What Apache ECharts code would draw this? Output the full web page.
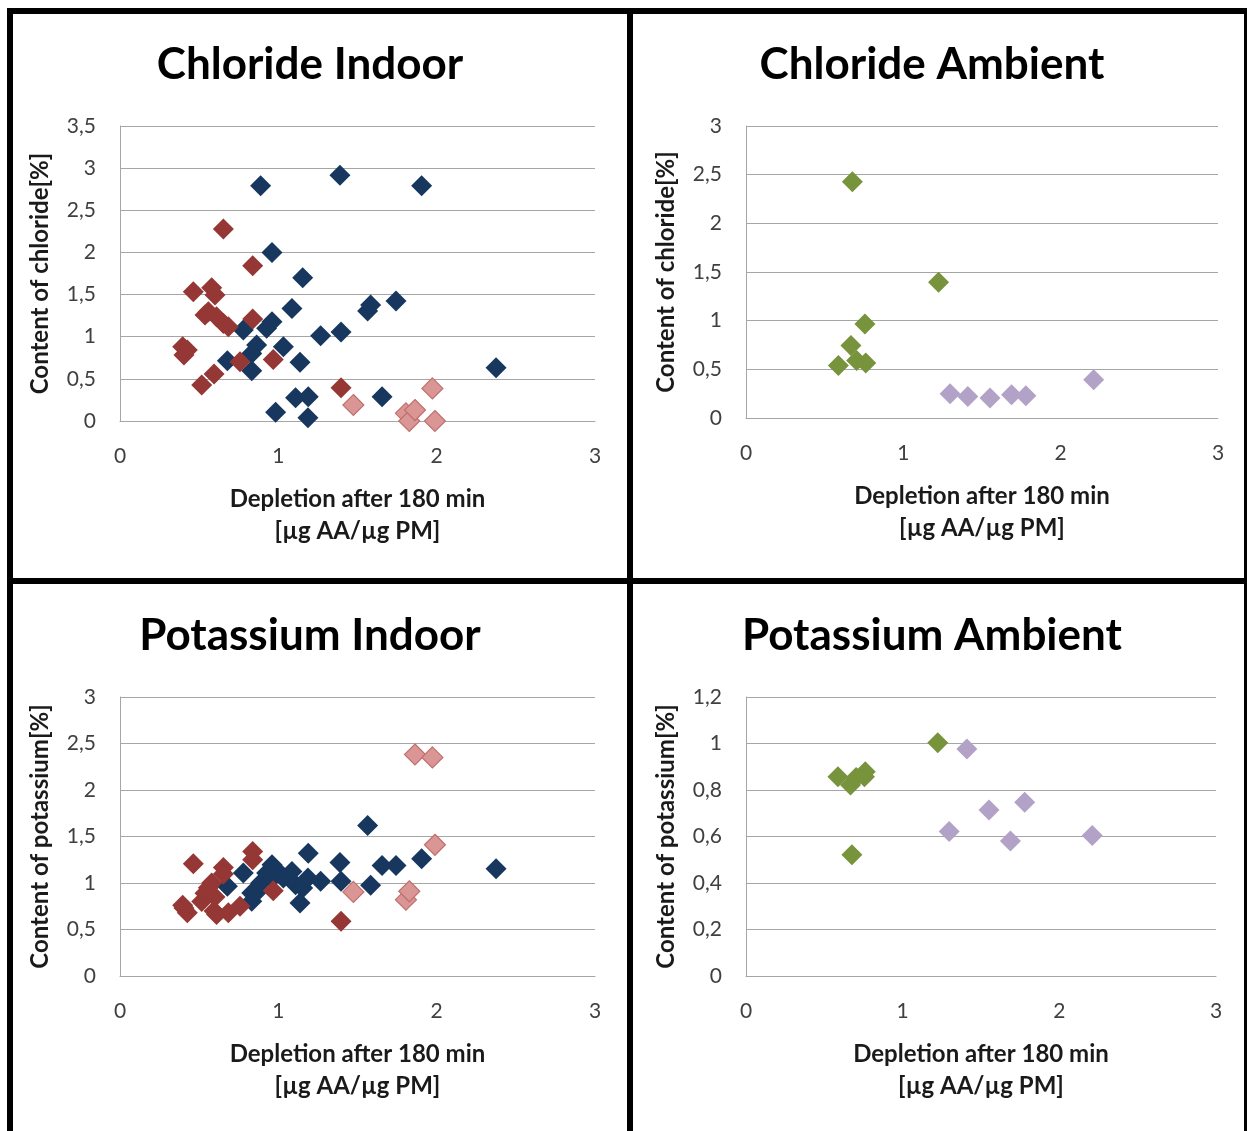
<!DOCTYPE html>
<html>
<head>
<meta charset="utf-8">
<script src="https://cdn.jsdelivr.net/npm/echarts@6/dist/echarts.min.js"></script>
<style>
  html, body { margin: 0; padding: 0; background: #fff; }
  #chart { width: 1247px; height: 1131px; }
</style>
</head>
<body>
<div id="chart"></div>
<script>
// Indoor samples (dark blue): depletion, chloride content, potassium content
const indoorBlueX  = [0.678, 0.779, 0.832, 0.832, 0.863, 0.888, 0.926, 0.96, 0.96, 0.983, 1.032, 1.086, 1.109, 1.137, 1.154, 1.187, 1.189, 1.267, 1.389, 1.396, 1.564, 1.583, 1.655, 1.743, 1.905, 2.375];
const indoorBlueCl = [0.715, 1.079, 0.80, 0.597, 0.901, 2.79, 1.099, 2.0, 1.178, 0.103, 0.88, 1.336, 0.277, 0.696, 1.70, 0.04, 0.289, 1.012, 2.917, 1.055, 1.304, 1.375, 0.289, 1.423, 2.79, 0.632];
const indoorBlueK  = [0.964, 1.107, 0.893, 0.804, 0.90, 1.0, 1.107, 1.196, 1.05, 1.15, 1.054, 1.125, 0.98, 0.786, 0.946, 1.054, 1.321, 1.018, 1.221, 1.018, 1.618, 0.975, 1.189, 1.189, 1.261, 1.154];

// Indoor samples (dark red)
const indoorRedX  = [0.396, 0.404, 0.425, 0.463, 0.516, 0.537, 0.558, 0.579, 0.594, 0.6, 0.61, 0.653, 0.653, 0.684, 0.758, 0.838, 0.838, 0.968, 1.396];
const indoorRedCl = [0.881, 0.783, 0.842, 1.534, 0.427, 1.257, 1.296, 1.581, 0.557, 1.494, 1.237, 2.277, 1.158, 1.119, 0.704, 1.842, 1.21, 0.731, 0.395];
const indoorRedK  = [0.76, 0.732, 0.68, 1.207, 0.80, 0.89, 0.95, 1.0, 0.70, 0.85, 0.66, 1.168, 1.096, 0.68, 0.75, 1.339, 1.25, 0.918, 0.589];

// Indoor samples (light red)
const indoorPinkX  = [1.474, 1.806, 1.827, 1.863, 1.973, 1.989];
const indoorPinkCl = [0.19, 0.091, 0.0, 0.13, 0.387, 0.0];
const indoorPinkK  = [0.904, 0.821, 0.911, 2.382, 2.35, 1.411];

// Ambient samples (green)
const ambientGreenX  = [0.587, 0.667, 0.676, 0.703, 0.756, 0.761, 1.224];
const ambientGreenCl = [0.54, 0.745, 2.426, 0.59, 0.967, 0.564, 1.394];
const ambientGreenK  = [0.857, 0.821, 0.521, 0.854, 0.857, 0.879, 1.003];

// Ambient samples (purple)
const ambientPurpleX  = [1.297, 1.41, 1.551, 1.688, 1.779, 2.21];
const ambientPurpleCl = [0.249, 0.222, 0.205, 0.239, 0.229, 0.393];
const ambientPurpleK  = [0.621, 0.976, 0.714, 0.581, 0.747, 0.604];

const panelTitles = ['Chloride Indoor', 'Chloride Ambient', 'Potassium Indoor', 'Potassium Ambient'];
const xAxisName = 'Depletion after 180 min\n[µg AA/µg PM]';
const yAxisNames = ['Content of chloride[%]', 'Content of chloride[%]', 'Content of potassium[%]', 'Content of potassium[%]'];
const yMax = [3.5, 3, 3, 1.2];
const yStep = [0.5, 0.5, 0.5, 0.2];

const FONT = 'Lato, "Open Sans", sans-serif';
const GRID_COLOR = '#a6a6a6';

const pairs = (xs, ys) => xs.map((x, i) => [x, ys[i]]);
const decimalComma = v => String(Math.round(v * 10) / 10).replace('.', ',');

const grids = [
  { left: 120, top: 126, width: 475, height: 295 },
  { left: 746, top: 126, width: 472, height: 292 },
  { left: 120, top: 697, width: 475, height: 279 },
  { left: 746, top: 697, width: 470, height: 279 }
];

const titleCenters = [[305, 38], [927, 38], [305, 609], [927, 609]];

const xAxes = grids.map((g, i) => ({
  type: 'value', gridIndex: i, min: 0, max: 3, interval: 1,
  name: xAxisName, nameLocation: 'middle', nameGap: 62,
  nameTextStyle: { fontFamily: FONT, fontWeight: 'bold', fontSize: 24, color: '#1a1a1a', lineHeight: 32 },
  axisLine: { show: true, lineStyle: { color: GRID_COLOR, width: 1 } },
  axisTick: { show: false },
  splitLine: { show: false },
  axisLabel: { fontFamily: FONT, fontSize: 21, color: '#404040', margin: 25, formatter: decimalComma }
}));

const yAxes = grids.map((g, i) => ({
  type: 'value', gridIndex: i, min: 0, max: yMax[i], interval: yStep[i],
  name: yAxisNames[i], nameLocation: 'middle', nameGap: 68,
  nameTextStyle: { fontFamily: FONT, fontWeight: 'bold', fontSize: 24, color: '#1a1a1a' },
  axisLine: { show: true, lineStyle: { color: GRID_COLOR, width: 1 } },
  axisTick: { show: false },
  splitLine: { show: true, lineStyle: { color: GRID_COLOR, width: 1 } },
  axisLabel: { fontFamily: FONT, fontSize: 21, color: '#404040', margin: 24, formatter: decimalComma }
}));

const marker = (name, idx, data, color, border) => ({
  name, type: 'scatter', xAxisIndex: idx, yAxisIndex: idx,
  symbol: 'diamond', symbolSize: 21, data,
  itemStyle: border
    ? { color, borderColor: border, borderWidth: 1.2, opacity: 1 }
    : { color, opacity: 1 },
  emphasis: { disabled: true }
});

const BLUE = '#17375e', RED = '#953735', PINK = '#d99694', PINK_EDGE = '#c0706d';
const GREEN = '#77933c', PURPLE = '#b3a2c7';

const series = [
  marker('Indoor', 0, pairs(indoorBlueX, indoorBlueCl), BLUE),
  marker('Indoor', 0, pairs(indoorRedX, indoorRedCl), RED),
  marker('Indoor', 0, pairs(indoorPinkX, indoorPinkCl), PINK, PINK_EDGE),
  marker('Ambient', 1, pairs(ambientGreenX, ambientGreenCl), GREEN),
  marker('Ambient', 1, pairs(ambientPurpleX, ambientPurpleCl), PURPLE),
  marker('Indoor', 2, pairs(indoorBlueX, indoorBlueK), BLUE),
  marker('Indoor', 2, pairs(indoorRedX, indoorRedK), RED),
  marker('Indoor', 2, pairs(indoorPinkX, indoorPinkK), PINK, PINK_EDGE),
  marker('Ambient', 3, pairs(ambientGreenX, ambientGreenK), GREEN),
  marker('Ambient', 3, pairs(ambientPurpleX, ambientPurpleK), PURPLE)
];

// Panel frame: black outer border and dividers between the four charts
const frame = [
  { x: 7, y: 8, width: 1240, height: 6 },
  { x: 7, y: 8, width: 6, height: 1123 },
  { x: 627, y: 8, width: 6, height: 1123 },
  { x: 7, y: 578, width: 1240, height: 6 },
  { x: 1244, y: 8, width: 3, height: 1123 }
].map(r => ({ type: 'rect', shape: r, style: { fill: '#000' }, silent: true }));

const chart = echarts.init(document.getElementById('chart'), null, { renderer: 'canvas' });
chart.setOption({
  backgroundColor: '#fff',
  animation: false,
  title: panelTitles.map((t, i) => ({
    text: t, left: titleCenters[i][0], top: titleCenters[i][1], textAlign: 'center',
    textStyle: { fontFamily: FONT, fontWeight: 'bold', fontSize: 44, color: '#000' }
  })),
  grid: grids,
  xAxis: xAxes,
  yAxis: yAxes,
  series,
  graphic: frame
});
</script>
</body>
</html>
